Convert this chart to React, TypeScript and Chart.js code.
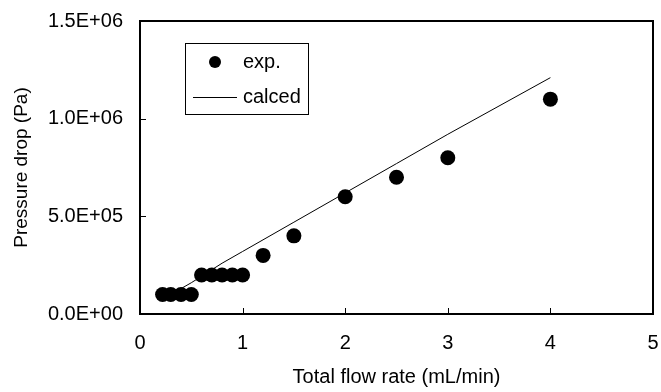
import React, { useEffect, useRef } from "react";
import { Chart, registerables } from "chart.js";

Chart.register(...registerables);

const expFlow = [0.22, 0.3, 0.4, 0.5, 0.6, 0.7, 0.8, 0.9, 1.0, 1.2, 1.5, 2.0, 2.5, 3.0, 4.0];
const expPressure = [1e5, 1e5, 1e5, 1e5, 2e5, 2e5, 2e5, 2e5, 2e5, 3e5, 4e5, 6e5, 7e5, 8e5, 1.1e6];
const calcFlow = [0.4, 0.5, 0.8, 1.0, 1.5, 2.0, 2.5, 3.0, 4.0];
const calcPressure = [1.3e5, 1.6e5, 2.6e5, 3.2e5, 4.7e5, 6.2e5, 7.7e5, 9.2e5, 1.21e6];
const xTicks = [0, 1, 2, 3, 4, 5];
const yTicks = [0, 5e5, 1e6, 1.5e6];
const seriesNames = ["exp.", "calced"];

const FONT = "'Liberation Sans', Arial, sans-serif";
const FS = 20;

function fmtExp(v: number): string {
  const s = v.toExponential(1).toUpperCase();
  const [m, e] = s.split("E");
  const sign = e[0] === "-" ? "-" : "+";
  const digits = e.replace(/[+-]/, "").padStart(2, "0");
  return `${m}E${sign}${digits}`;
}

const framePlugin = {
  id: "frameAndTicks",
  afterDraw(chart: any) {
    const { ctx, chartArea } = chart;
    const { left, right, top, bottom } = chartArea;
    ctx.save();
    ctx.strokeStyle = "#000";
    ctx.lineWidth = 2;
    ctx.strokeRect(left, top, right - left, bottom - top);
    ctx.lineWidth = 1;
    const xs = chart.scales.x;
    const ys = chart.scales.y;
    xTicks.forEach((t) => {
      const px = Math.round(xs.getPixelForValue(t)) + 0.5;
      ctx.beginPath();
      ctx.moveTo(px, bottom);
      ctx.lineTo(px, bottom - 6);
      ctx.stroke();
    });
    yTicks.forEach((t) => {
      const py = Math.round(ys.getPixelForValue(t)) + 0.5;
      ctx.beginPath();
      ctx.moveTo(left, py);
      ctx.lineTo(left + 6, py);
      ctx.stroke();
    });
    const bx = left + 45;
    const by = top + 22;
    const bw = 123;
    const bh = 71;
    ctx.fillStyle = "#fff";
    ctx.fillRect(bx, by, bw, bh);
    ctx.lineWidth = 1;
    ctx.strokeRect(bx + 0.5, by + 0.5, bw, bh);
    ctx.fillStyle = "#000";
    ctx.beginPath();
    ctx.arc(bx + 30, by + 19, 6, 0, Math.PI * 2);
    ctx.fill();
    ctx.beginPath();
    ctx.moveTo(bx + 8, by + 54.5);
    ctx.lineTo(bx + 52, by + 54.5);
    ctx.stroke();
    ctx.font = `${FS}px ${FONT}`;
    ctx.textBaseline = "middle";
    ctx.textAlign = "left";
    ctx.fillText(seriesNames[0], bx + 58, by + 19);
    ctx.fillText(seriesNames[1], bx + 58, by + 54);
    ctx.restore();
  },
};

export default function App() {
  const ref = useRef<HTMLCanvasElement | null>(null);
  useEffect(() => {
    if (!ref.current) return;
    const chart = new Chart(ref.current, {
      type: "scatter",
      data: {
        datasets: [
          {
            label: seriesNames[1],
            data: calcFlow.map((x, i) => ({ x, y: calcPressure[i] })),
            showLine: true,
            borderColor: "#000",
            borderWidth: 1,
            pointRadius: 0,
            order: 2,
          },
          {
            label: seriesNames[0],
            data: expFlow.map((x, i) => ({ x, y: expPressure[i] })),
            showLine: false,
            backgroundColor: "#000",
            borderColor: "#000",
            pointRadius: 7.5,
            borderWidth: 0,
            order: 1,
          },
        ],
      },
      options: {
        animation: false,
        responsive: false,
        maintainAspectRatio: false,
        layout: { autoPadding: false, padding: { left: 0, right: 8, top: 21, bottom: 0 } },
        plugins: { legend: { display: false }, tooltip: { enabled: false } },
        scales: {
          x: {
            type: "linear",
            min: 0,
            max: 5,
            afterFit(scale: any) {
              scale.height = 78;
              scale.paddingLeft = 0;
              scale.paddingRight = 0;
            },
            afterBuildTicks(scale: any) {
              scale.ticks = xTicks.map((v) => ({ value: v }));
            },
            border: { display: false },
            grid: { display: false, drawTicks: false },
            ticks: {
              color: "#000",
              font: { family: FONT, size: FS },
              padding: 17,
              maxRotation: 0,
              callback: (v: any) => String(v),
            },
            title: {
              display: true,
              text: "Total flow rate (mL/min)",
              color: "#000",
              font: { family: FONT, size: FS },
              padding: { top: 0, bottom: 3 },
            },
          },
          y: {
            type: "linear",
            min: 0,
            max: 1.5e6,
            afterFit(scale: any) {
              scale.width = 140;
              scale.paddingTop = 0;
              scale.paddingBottom = 0;
            },
            afterBuildTicks(scale: any) {
              scale.ticks = yTicks.map((v) => ({ value: v }));
            },
            border: { display: false },
            grid: { display: false, drawTicks: false },
            ticks: {
              color: "#000",
              font: { family: FONT, size: FS },
              padding: 17,
              callback: (v: any) => fmtExp(Number(v)),
            },
            title: {
              display: true,
              text: "Pressure drop (Pa)",
              color: "#000",
              font: { family: FONT, size: 19 },
              padding: { top: 10, bottom: 0 },
            },
          },
        },
      },
      plugins: [framePlugin],
    });
    return () => chart.destroy();
  }, []);
  return (
    <div style={{ position: "fixed", left: 0, top: 0, width: 661, height: 392, background: "#fff" }}>
      <canvas ref={ref} width={661} height={392} style={{ display: "block" }} />
    </div>
  );
}
